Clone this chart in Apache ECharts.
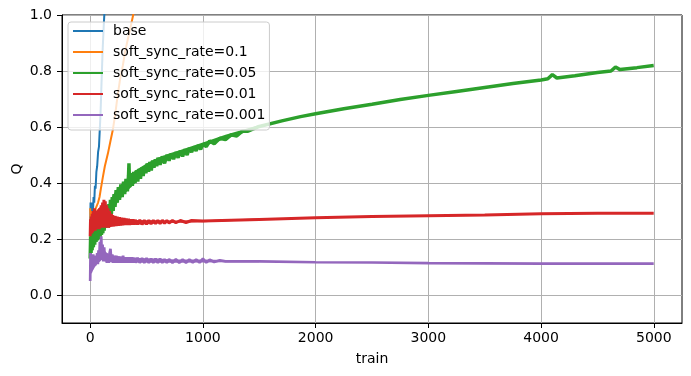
<!DOCTYPE html>
<html>
<head>
<meta charset="utf-8">
<script src="https://cdn.jsdelivr.net/npm/echarts@6/dist/echarts.min.js"></script>
<style>
  html, body { margin: 0; padding: 0; background: #fff; }
  #chart { width: 691px; height: 376px; }
</style>
</head>
<body>
<div id="chart"></div>
<script>
// values, [train step, Q]
const xTicks = [0, 1000, 2000, 3000, 4000, 5000];
const yTicks = [0, 0.2, 0.4, 0.6, 0.8, 1.0];

const baseData = [
  [0, 0.22], [3, 0.33], [6, 0.24], [10, 0.32], [15, 0.27], [20, 0.33], [25, 0.30],
  [30, 0.35], [36, 0.33], [42, 0.39], [48, 0.38], [55, 0.44], [62, 0.46], [70, 0.51],
  [78, 0.53], [85, 0.59], [92, 0.65], [100, 0.75], [110, 0.87], [120, 0.96], [128, 1.02], [140, 1.1]
];

const sync01Data = [
  [0, 0.31], [4, 0.26], [8, 0.30], [14, 0.27], [20, 0.29], [25, 0.26], [32, 0.30],
  [40, 0.29], [50, 0.31], [60, 0.32], [70, 0.33], [83, 0.35], [95, 0.38], [112, 0.42],
  [130, 0.46], [157, 0.505], [180, 0.55], [201, 0.59], [220, 0.64], [243, 0.71],
  [265, 0.77], [290, 0.82], [310, 0.87], [332, 0.91], [360, 0.96], [392, 1.02], [420, 1.06]
];

const sync005Data = [
  [0, 0.13], [4, 0.21], [8, 0.15], [12, 0.22], [17, 0.16], [22, 0.22], [28, 0.17],
  [34, 0.23], [40, 0.18], [46, 0.235], [52, 0.19], [58, 0.24], [64, 0.195], [70, 0.25],
  [76, 0.20], [82, 0.255], [88, 0.205], [94, 0.26], [100, 0.215], [106, 0.27], [112, 0.22],
  [118, 0.28], [124, 0.23], [130, 0.29], [136, 0.24], [142, 0.30], [148, 0.25], [154, 0.31],
  [160, 0.265], [166, 0.325], [172, 0.28], [180, 0.34], [188, 0.29], [196, 0.35], [204, 0.30],
  [212, 0.36], [220, 0.315], [230, 0.375], [240, 0.33], [250, 0.385], [260, 0.34], [272, 0.395],
  [284, 0.35], [296, 0.405], [306, 0.36], [318, 0.415], [330, 0.37], [340, 0.425], [344, 0.47],
  [350, 0.385], [362, 0.435], [374, 0.39], [386, 0.44], [398, 0.40], [410, 0.445], [422, 0.405],
  [434, 0.45], [446, 0.415], [458, 0.455], [470, 0.425], [482, 0.46], [494, 0.435], [506, 0.47],
  [518, 0.44], [530, 0.475], [542, 0.445], [554, 0.48], [566, 0.455], [578, 0.485], [590, 0.46],
  [602, 0.49], [620, 0.465], [640, 0.495], [660, 0.47], [680, 0.50], [700, 0.48], [720, 0.505],
  [740, 0.485], [760, 0.51], [780, 0.49], [800, 0.515], [820, 0.495], [840, 0.52], [860, 0.50],
  [880, 0.525], [900, 0.51], [920, 0.53], [940, 0.515], [960, 0.535], [980, 0.52], [1000, 0.54],
  [1030, 0.53], [1060, 0.55], [1100, 0.54], [1150, 0.56], [1200, 0.555], [1250, 0.572],
  [1300, 0.568], [1350, 0.585], [1400, 0.585], [1500, 0.602], [1700, 0.622],
  [1866, 0.637], [2000, 0.647], [2250, 0.665], [2500, 0.681], [2750, 0.698], [3000, 0.713],
  [3250, 0.727], [3500, 0.741], [3750, 0.755], [4000, 0.768], [4060, 0.772], [4100, 0.787],
  [4140, 0.775], [4300, 0.783], [4500, 0.795], [4620, 0.80], [4660, 0.814], [4700, 0.805],
  [4850, 0.812], [4999, 0.82]
];

const sync001Data = [
  [0, 0.21], [3, 0.27], [6, 0.22], [10, 0.28], [14, 0.22], [18, 0.29], [22, 0.225],
  [27, 0.30], [32, 0.23], [38, 0.31], [44, 0.23], [50, 0.30], [56, 0.235], [62, 0.29],
  [68, 0.235], [74, 0.30], [80, 0.235], [86, 0.31], [92, 0.24], [98, 0.32], [104, 0.24],
  [110, 0.33], [116, 0.24], [122, 0.34], [128, 0.24], [134, 0.335], [140, 0.24], [146, 0.32],
  [152, 0.24], [158, 0.31], [164, 0.24], [172, 0.30], [180, 0.245], [188, 0.29], [196, 0.245],
  [200, 0.285], [210, 0.245], [220, 0.282], [230, 0.246], [240, 0.28], [250, 0.247],
  [260, 0.278], [270, 0.248], [280, 0.276], [290, 0.249], [300, 0.275], [310, 0.25],
  [320, 0.273], [330, 0.25], [340, 0.272], [350, 0.25], [360, 0.27], [370, 0.251],
  [380, 0.27], [390, 0.251], [400, 0.268], [420, 0.252], [440, 0.268], [460, 0.252],
  [480, 0.267], [500, 0.253], [520, 0.267], [540, 0.254], [560, 0.267], [580, 0.255],
  [600, 0.267], [620, 0.255], [640, 0.267], [660, 0.256], [680, 0.266], [700, 0.257],
  [730, 0.266], [760, 0.258], [800, 0.266], [850, 0.259], [900, 0.266], [1000, 0.264],
  [1500, 0.27], [2000, 0.276], [2500, 0.28], [3000, 0.283], [3500, 0.286], [4000, 0.29],
  [4500, 0.292], [4999, 0.292]
];

const sync0001Data = [
  [0, 0.05], [3, 0.15], [6, 0.08], [10, 0.13], [14, 0.09], [18, 0.14], [22, 0.10],
  [27, 0.145], [32, 0.10], [38, 0.14], [44, 0.105], [50, 0.14], [56, 0.11], [62, 0.15],
  [68, 0.11], [74, 0.16], [80, 0.12], [86, 0.19], [92, 0.13], [98, 0.21], [104, 0.13],
  [110, 0.18], [116, 0.12], [124, 0.17], [132, 0.12], [140, 0.15], [148, 0.115], [156, 0.145],
  [164, 0.115], [172, 0.15], [180, 0.165], [188, 0.118], [196, 0.145], [204, 0.115],
  [212, 0.14], [222, 0.115], [232, 0.14], [242, 0.115], [252, 0.138], [262, 0.115],
  [272, 0.137], [282, 0.115], [292, 0.14], [302, 0.115], [312, 0.135], [322, 0.115],
  [332, 0.135], [342, 0.115], [352, 0.135], [362, 0.115], [372, 0.135], [382, 0.115],
  [392, 0.133], [402, 0.115], [420, 0.133], [440, 0.115], [460, 0.132], [480, 0.115],
  [500, 0.132], [520, 0.115], [540, 0.13], [560, 0.115], [580, 0.13], [600, 0.115],
  [620, 0.13], [640, 0.115], [660, 0.128], [680, 0.115], [700, 0.128], [730, 0.115],
  [760, 0.128], [790, 0.115], [820, 0.127], [850, 0.115], [880, 0.127], [910, 0.116],
  [940, 0.127], [970, 0.116], [1000, 0.13], [1030, 0.116], [1060, 0.126], [1100, 0.118],
  [1150, 0.124], [1200, 0.12], [1500, 0.12], [2000, 0.117], [2500, 0.116], [3000, 0.114],
  [3500, 0.113], [4000, 0.112], [4500, 0.112], [4999, 0.112]
];

// noise envelopes (low / high edge of each band)
const bandX = [0, 50, 100, 150, 200, 250, 300, 400, 500, 600, 700, 800, 1000, 1200, 1500];
const sync005Lo = [0.14, 0.19, 0.215, 0.25, 0.30, 0.335, 0.36, 0.40, 0.44, 0.465, 0.485, 0.50, 0.53, 0.557, 0.597];
const sync005Hi = [0.21, 0.235, 0.27, 0.31, 0.355, 0.385, 0.405, 0.445, 0.47, 0.49, 0.505, 0.518, 0.545, 0.572, 0.607];
const sync001Lo = [0.21, 0.23, 0.24, 0.24, 0.245, 0.248, 0.25, 0.251, 0.253, 0.255, 0.257, 0.258, 0.26, 0.263, 0.267];
const sync001Hi = [0.27, 0.30, 0.32, 0.32, 0.285, 0.278, 0.273, 0.268, 0.267, 0.267, 0.266, 0.266, 0.267, 0.27, 0.273];
const sync0001Lo = [0.07, 0.105, 0.125, 0.118, 0.116, 0.115, 0.115, 0.115, 0.115, 0.115, 0.115, 0.115, 0.116, 0.117, 0.117];
const sync0001Hi = [0.14, 0.14, 0.17, 0.15, 0.142, 0.138, 0.136, 0.133, 0.131, 0.13, 0.128, 0.127, 0.127, 0.125, 0.123];

const seriesNames = ['base', 'soft_sync_rate=0.1', 'soft_sync_rate=0.05', 'soft_sync_rate=0.01', 'soft_sync_rate=0.001'];
const seriesColors = ['#1f77b4', '#ff7f0e', '#2ca02c', '#d62728', '#9467bd'];
const seriesData = [baseData, sync01Data, sync005Data, sync001Data, sync0001Data];
const seriesWidths = [2, 2, 3.5, 3, 2.7];
const bands = [null, null, [sync005Lo, sync005Hi], [sync001Lo, sync001Hi], [sync0001Lo, sync0001Hi]];

const font = 'DejaVu Sans';
const chart = echarts.init(document.getElementById('chart'), null, { renderer: 'canvas' });

const series = [];
seriesNames.forEach((name, i) => {
  if (bands[i]) {
    const [lo, hi] = bands[i];
    const color = seriesColors[i];
    series.push({
      name: name + ' band',
      type: 'custom',
      silent: true,
      data: bandX.map((x, k) => [x, lo[k], hi[k]]),
      encode: { x: 0, y: [1, 2] },
      renderItem: (params, api) => {
        if (params.dataIndex !== 0) return null;
        const top = bandX.map((x, k) => api.coord([x, hi[k]]));
        const bottom = bandX.map((x, k) => api.coord([x, lo[k]])).reverse();
        return {
          type: 'polygon',
          shape: { points: top.concat(bottom) },
          style: { fill: color }
        };
      }
    });
  }
  series.push({
    name: name,
    type: 'line',
    data: seriesData[i],
    symbol: 'none',
    clip: true,
    color: seriesColors[i],
    lineStyle: { color: seriesColors[i], width: seriesWidths[i] }
  });
});

chart.setOption({
  animation: false,
  textStyle: { fontFamily: font },
  grid: {
    left: 62, right: 9, top: 15, bottom: 53,
    containLabel: false, outerBoundsMode: 'none',
    show: true, borderColor: '#000', borderWidth: 1, backgroundColor: 'transparent'
  },
  legend: {
    orient: 'vertical',
    left: 68, top: 22,
    padding: [2, 4, 8, 5],
    icon: 'rect',
    itemWidth: 30, itemHeight: 2, itemGap: 7,
    backgroundColor: 'rgba(255,255,255,0.8)',
    borderColor: '#cccccc', borderWidth: 1, borderRadius: 3,
    textStyle: { fontFamily: font, fontSize: 14, color: '#000', padding: [0, 0, 0, 5], lineHeight: 14 },
    data: seriesNames
  },
  xAxis: {
    type: 'value',
    min: -250, max: 5250,
    minInterval: 1000, maxInterval: 1000,
    name: 'train', nameLocation: 'middle', nameGap: 29, nameMoveOverlap: false,
    nameTextStyle: { fontFamily: font, fontSize: 14, color: '#000' },
    axisLine: { show: true, onZero: false, lineStyle: { color: '#000', width: 1 } },
    axisTick: { show: true, customValues: xTicks, length: 5, lineStyle: { color: '#000' } },
    axisLabel: {
      customValues: xTicks, margin: 8, fontFamily: font, fontSize: 14, color: '#000',
      formatter: v => String(v)
    },
    splitLine: { show: true, lineStyle: { color: '#b0b0b0', width: 1 } }
  },
  yAxis: {
    type: 'value',
    min: -0.1, max: 1.0,
    name: 'Q', nameLocation: 'middle', nameGap: 38, nameMoveOverlap: false,
    nameTextStyle: { fontFamily: font, fontSize: 14, color: '#000' },
    axisLine: { show: true, onZero: false, lineStyle: { color: '#000', width: 1 } },
    axisTick: { show: true, customValues: yTicks, length: 5, lineStyle: { color: '#000' } },
    axisLabel: {
      customValues: yTicks, margin: 10, fontFamily: font, fontSize: 14, color: '#000',
      formatter: v => v.toFixed(1)
    },
    splitLine: { show: true, lineStyle: { color: '#b0b0b0', width: 1 } }
  },
  series: series
});
</script>
</body>
</html>
